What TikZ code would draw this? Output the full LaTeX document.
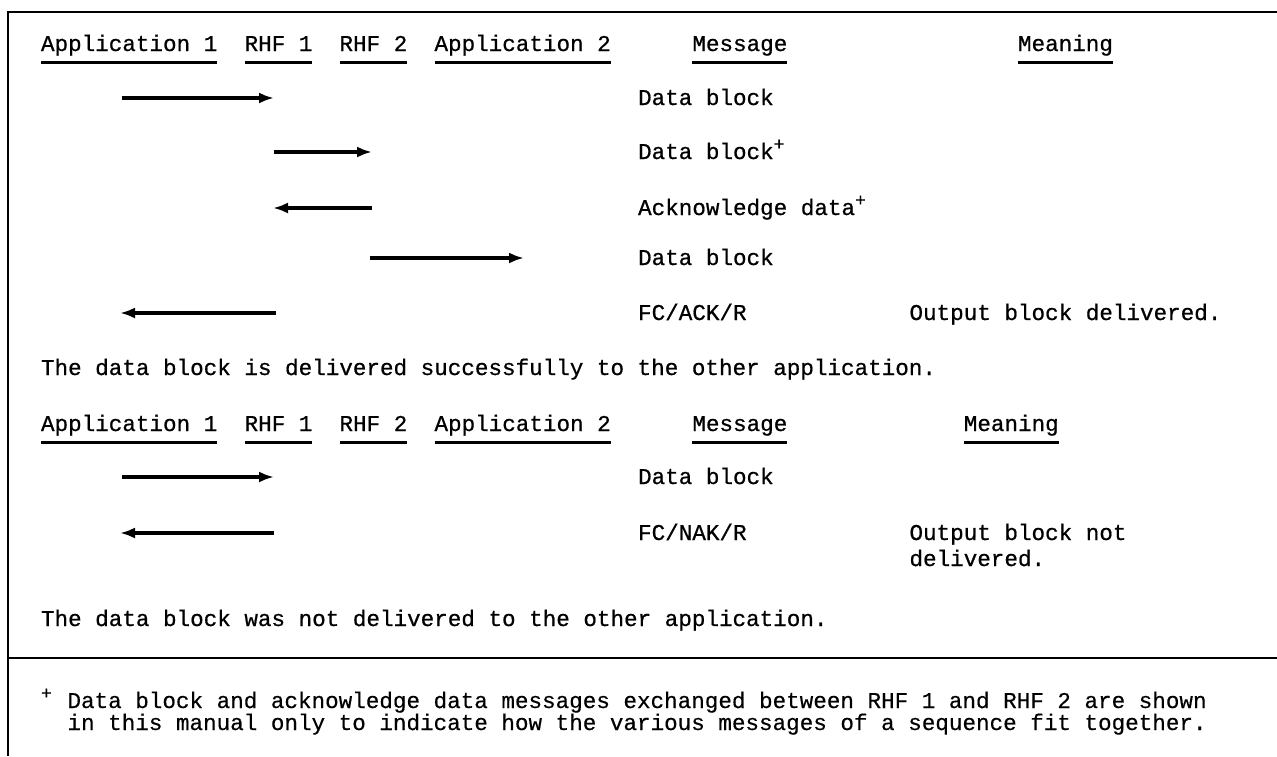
\documentclass[tikz,border=0pt]{standalone}
\usepackage{fontspec}
\setmonofont{Liberation Mono}
\newfontfamily\twmain{Liberation Mono}[FakeBold=0.7]
\newfontfamily\twfoot{Liberation Mono}[FakeBold=0.4]
\usetikzlibrary{arrows.meta}
\newcommand{\plusmark}{\raisebox{0.40em}{\fontsize{18}{18}\selectfont +}}
\tikzset{
  txt/.style={anchor=base west, inner sep=0pt, outer sep=0pt,
              font=\twmain\fontsize{22.6}{26}\selectfont},
  foot/.style={anchor=base west, inner sep=0pt, outer sep=0pt,
              font=\twfoot\fontsize{22.6}{26}\selectfont},
  ul/.style={line width=3pt},
  msgarrow/.style={line width=3.6pt, -{Latex[length=15pt,width=11pt]}},
  frameline/.style={line width=2.2pt}
}
\begin{document}
\begin{tikzpicture}[x=1pt,y=-1pt]
\useasboundingbox (0,0) rectangle (1277,756);
% frame
\coordinate (tl) at (8,12);
\coordinate (tr) at (1277,12);
\coordinate (bl) at (8,756);
\coordinate (dl) at (8,658);
\coordinate (dr) at (1277,658);
\draw[frameline] (tr) -- (tl) -- (bl);
\draw[frameline] (dl) -- (dr);

% header 1
\node[txt] (h1a) at (41,51) {Application 1};
\node[txt] (h1b) at (244.6,51) {RHF 1};
\node[txt] (h1c) at (339.5,51) {RHF 2};
\node[txt] (h1d) at (434.5,51) {Application 2};
\node[txt] (h1e) at (692.4,51) {Message};
\node[txt] (h1f) at (1018,51) {Meaning};
\foreach \n in {h1a,h1b,h1c,h1d,h1e,h1f}
  \draw[ul] ([yshift=-11pt]\n.base west) -- ([yshift=-11pt]\n.base east);

% rows, section 1
\node[txt] (m1) at (638.1,105) {Data block};
\node[txt] (m2) at (638.1,159) {Data block\plusmark};
\node[txt] (m3) at (638.1,215) {Acknowledge data\plusmark};
\node[txt] (m4) at (638.1,265) {Data block};
\node[txt] (m5) at (638.1,320) {FC/ACK/R};
\node[txt] (g5) at (909.5,320) {Output block delivered.};

\coordinate (a1s) at (122,98);  \coordinate (a1e) at (274,98);
\coordinate (a2s) at (274,152); \coordinate (a2e) at (372,152);
\coordinate (a3s) at (372,208); \coordinate (a3e) at (273,208);
\coordinate (a4s) at (370,258); \coordinate (a4e) at (524,258);
\coordinate (a5s) at (276,313); \coordinate (a5e) at (120,313);
\draw[msgarrow] (a1s) -- (a1e);
\draw[msgarrow] (a2s) -- (a2e);
\draw[msgarrow] (a3s) -- (a3e);
\draw[msgarrow] (a4s) -- (a4e);
\draw[msgarrow] (a5s) -- (a5e);

\node[txt] (s1) at (41,375) {The data block is delivered successfully to the other application.};

% header 2
\node[txt] (h2a) at (41,431) {Application 1};
\node[txt] (h2b) at (244.6,431) {RHF 1};
\node[txt] (h2c) at (339.5,431) {RHF 2};
\node[txt] (h2d) at (434.5,431) {Application 2};
\node[txt] (h2e) at (692.4,431) {Message};
\node[txt] (h2f) at (963.8,431) {Meaning};
\foreach \n in {h2a,h2b,h2c,h2d,h2e,h2f}
  \draw[ul] ([yshift=-11pt]\n.base west) -- ([yshift=-11pt]\n.base east);

% rows, section 2
\node[txt] (n1) at (638.1,484) {Data block};
\node[txt] (n2) at (638.1,540) {FC/NAK/R};
\node[txt] (k2) at (909.5,540) {Output block not};
\node[txt] (k3) at (909.5,566) {delivered.};

\coordinate (b1s) at (122,477); \coordinate (b1e) at (274,477);
\coordinate (b2s) at (274,533); \coordinate (b2e) at (120,533);
\draw[msgarrow] (b1s) -- (b1e);
\draw[msgarrow] (b2s) -- (b2e);

\node[txt] (s2) at (41,626) {The data block was not delivered to the other application.};

% footnote
\node[foot] (fp) at (41,708) {\plusmark};
\node[foot] (f1) at (67.5,708) {Data block and acknowledge data messages exchanged between RHF 1 and RHF 2 are shown};
\node[foot] (f2) at (67.5,730) {in this manual only to indicate how the various messages of a sequence fit together.};
\end{tikzpicture}
\end{document}
